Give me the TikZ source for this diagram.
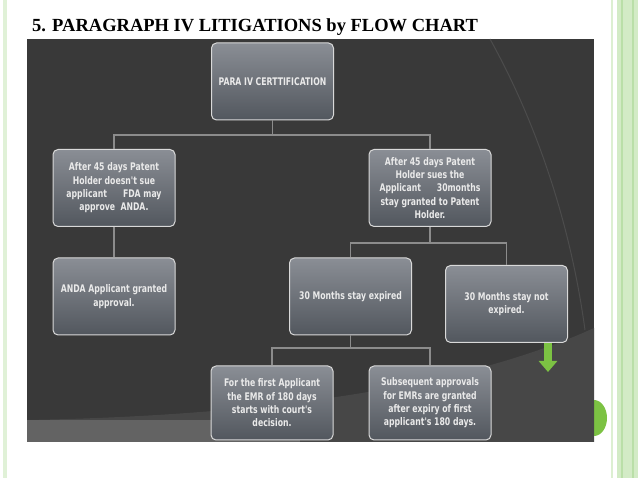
\documentclass[tikz,border=0pt]{standalone}
\usepackage{fontspec}
\setmainfont{Liberation Serif}
\newfontfamily\cardfont{DejaVu Sans Condensed}[FakeStretch=0.82]
\usetikzlibrary{positioning, calc, arrows.meta}
\definecolor{panelgray}{HTML}{393939}
\definecolor{panellight}{HTML}{474747}
\definecolor{cardtop}{HTML}{8A8E95}
\definecolor{cardbot}{HTML}{52575E}
\definecolor{cardtext}{HTML}{EAEAEA}
\definecolor{linkgray}{HTML}{8C8C8C}
\definecolor{leafgreen}{HTML}{7CC243}
\definecolor{stripegreen}{HTML}{D3EBC6}
\definecolor{stripeline}{HTML}{BADFA8}

\begin{document}
\begin{tikzpicture}[
  x=1pt, y=-1pt,
  card/.style={
    rectangle, rounded corners=5pt,
    minimum width=122pt, minimum height=77pt,
    draw=gray!30, line width=1pt,
    top color=cardtop, bottom color=cardbot,
    font=\cardfont\bfseries\fontsize{10.5}{13.3}\selectfont, text=cardtext,
    align=center, inner sep=2pt
  },
  link/.style={draw=linkgray, line width=1.2pt}
]
  \useasboundingbox (0,0) rectangle (638,478);
  % slide stripes
  \fill[stripegreen!70] (3,0) rectangle (7,478);
  \fill[stripegreen!80] (611,0) rectangle (613,478);
  \fill[stripegreen] (617,0) rectangle (638,478);
  \fill[stripeline] (621,0) rectangle (623,478);
  \fill[stripeline] (632,0) rectangle (634,478);

  \node[anchor=base west, inner sep=0pt, font=\bfseries\fontsize{18.5}{22}\selectfont] (title) at (32,32) {5. PARAGRAPH IV LITIGATIONS by FLOW CHART};

  % dark panel
  \fill[leafgreen] (594,400) arc[start angle=-90, end angle=90, x radius=13, y radius=18] -- cycle;
  \fill[panelgray] (27,39) rectangle (594,442);
  \begin{scope}
    \clip (27,39) rectangle (594,442);
    \fill[panellight] (27,420) .. controls (300,415) and (480,380) .. (594,328) -- (594,442) -- (27,442) -- cycle;
    \fill[panellight!85!white] (27,420) rectangle (300,442);
    \draw[black!70, line width=1pt] (490,39) .. controls (535,120) and (570,220) .. (585,330);
  \end{scope}

  \node[card] (cert) at (272.5,81.5) {PARA IV CERTTIFICATION};
  \node[card] (nosue) at (114,188) {After 45 days Patent\\Holder doesn't sue\\applicant \quad\ FDA may\\approve \ ANDA.};
  \node[card] (sues) at (430,188) {After 45 days Patent\\Holder sues the\\Applicant \quad\ 30months\\stay granted to Patent\\Holder.};
  \node[card] (granted) at (114,296.5) {ANDA Applicant granted\\approval.};
  \node[card] (expired) at (350.5,296.5) {30 Months stay expired};
  \node[card] (notexp) at (506.5,304) {30 Months stay not\\expired.};
  \node[card, minimum height=74pt] (first) at (272,403) {For the first Applicant\\the EMR of 180 days\\starts with court's\\decision.};
  \node[card, minimum height=74pt] (subseq) at (430,403) {Subsequent approvals\\for EMRs are granted\\after expiry of first\\applicant's 180 days.};

  \coordinate (j1) at (272.5,135);
  \coordinate (j2) at (430,243);
  \coordinate (j3) at (350.5,348);
  \coordinate (arrowend) at (548,372);

  \draw[link] (cert) -- (j1) -| (nosue);
  \draw[link] (j1) -| (sues);
  \draw[link] (nosue) -- (granted);
  \draw[link] (sues) -- (j2) -| (expired);
  \draw[link] (j2) -| (notexp);
  \draw[link] (expired) -- (j3) -| (first);
  \draw[link] (j3) -| (subseq);

  \draw[leafgreen, line width=8pt, -{Triangle[width=18pt, length=11pt]}] (notexp.south -| arrowend) -- (arrowend);
\end{tikzpicture}
\end{document}
